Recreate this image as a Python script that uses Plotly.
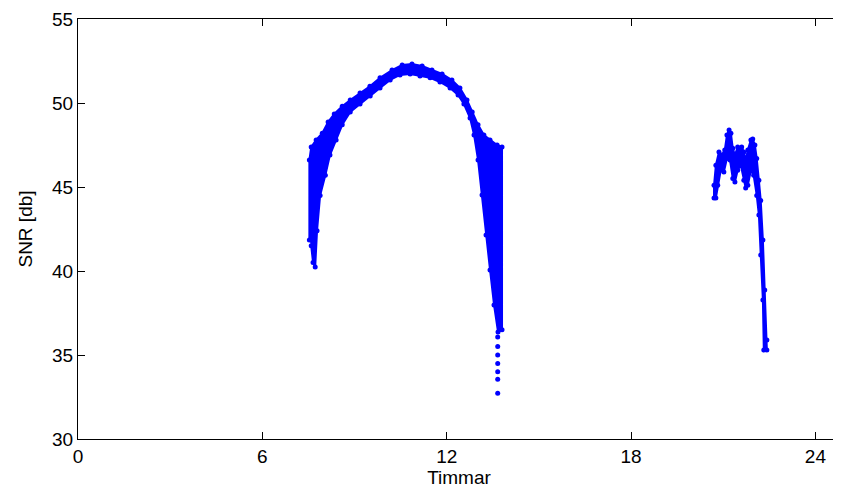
import plotly.graph_objects as go

# Pass 1 (daytime arc): outline, upper edge left->right then lower edge right->left
pass1_hours = [7.53, 7.53, 7.59, 7.75, 7.95, 8.14, 8.34, 8.60, 8.86, 9.18, 9.50, 9.83, 10.22, 10.55,
               10.87, 11.20, 11.52, 11.85, 12.17, 12.43, 12.66, 12.83, 13.02, 13.21, 13.41, 13.64, 13.80,
               13.80, 13.67, 13.54, 13.41, 13.28, 13.15, 13.02, 12.89, 12.76, 12.56, 12.37, 12.11, 11.78,
               11.46, 11.13, 10.81, 10.48, 10.16, 9.83, 9.51, 9.18, 8.86, 8.60, 8.40, 8.20, 8.05, 7.88,
               7.78, 7.72, 7.65, 7.59]
pass1_snr = [41.85, 46.6, 47.38, 47.8, 48.2, 48.87, 49.35, 49.8, 50.18, 50.6, 51.0, 51.5, 51.96, 52.26,
             52.32, 52.2, 51.96, 51.73, 51.37, 50.9, 50.18, 49.46, 48.7, 48.1, 47.8, 47.5, 47.38,
             36.5, 36.37, 37.98, 40.06, 42.14, 44.52, 46.6, 48.1, 49.1, 49.94, 50.48, 50.9, 51.25,
             51.5, 51.6, 51.73, 51.67, 51.37, 50.9, 50.42, 49.94, 49.46, 48.7, 47.8, 46.9, 45.7, 44.5,
             42.4, 40.24, 40.5, 41.5]

# isolated low readings at the end of pass 1
tail_hours = [13.66, 13.66, 13.66, 13.66, 13.66, 13.66, 13.66]
tail_snr = [36.07, 35.5, 35.0, 34.5, 34.0, 33.55, 32.73]

# Pass 2 (evening): outline
pass2_hours = [20.70, 20.70, 20.76, 20.86, 20.95, 21.05, 21.12, 21.19, 21.25, 21.31, 21.38, 21.47, 21.60,
               21.67, 21.73, 21.80, 21.90, 21.96, 22.03, 22.09, 22.16, 22.22, 22.29, 22.35, 22.42, 22.42,
               22.32, 22.29, 22.22, 22.16, 22.09, 21.99, 21.90, 21.80, 21.73, 21.67, 21.57, 21.47, 21.38,
               21.31, 21.22, 21.12, 21.02, 20.92, 20.82, 20.76]
pass2_snr = [44.34, 45.1, 46.3, 47.08, 46.9, 47.2, 48.1, 48.4, 48.2, 47.3, 46.9, 47.38, 47.38,
             47.08, 46.6, 47.2, 47.8, 47.86, 47.5, 46.7, 45.4, 44.2, 41.85, 38.87, 35.9, 35.3,
             35.3, 38.27, 40.95, 43.33, 44.5, 45.7, 46.0, 45.1, 44.94, 45.4, 46.3, 46.0, 45.3,
             45.5, 46.6, 46.7, 45.9, 46.0, 45.1, 44.34]

x_ticks = [0, 6, 12, 18, 24]
y_ticks = [30, 35, 40, 45, 50, 55]

BLUE = "#0000ff"
fig = go.Figure()
for hx, sy in [(pass1_hours, pass1_snr), (pass2_hours, pass2_snr)]:
    fig.add_trace(go.Scatter(x=hx, y=sy, mode="lines+markers", fill="toself",
                             fillcolor=BLUE, line=dict(color=BLUE, width=2),
                             marker=dict(color=BLUE, size=5), hoverinfo="skip",
                             showlegend=False))
fig.add_trace(go.Scatter(x=tail_hours, y=tail_snr, mode="markers",
                         marker=dict(color=BLUE, size=5), showlegend=False))

font = dict(family="Liberation Sans, Arial, sans-serif", size=19, color="black")
axis_common = dict(showgrid=False, zeroline=False, showline=True, linecolor="black", linewidth=1,
                   mirror="ticks", ticks="inside", ticklen=7, tickcolor="black", tickwidth=1,
                   tickfont=font)
# the page body has an 8px margin, so the figure is sized/offset to place the axes box as in the reference
fig.update_layout(
    width=833, height=489,
    margin=dict(l=70, r=1, t=11, b=58),
    paper_bgcolor="white", plot_bgcolor="white",
    font=font,
    xaxis=dict(range=[0, 24.8], tickvals=x_ticks, ticktext=[str(t) for t in x_ticks],
               title=dict(text="Timmar", font=font, standoff=2), **axis_common),
    yaxis=dict(range=[30, 55], tickvals=y_ticks, ticktext=[str(t) for t in y_ticks],
               title=dict(text="SNR [db]", font=font, standoff=14), **axis_common),
)
fig.write_html("out.html")
